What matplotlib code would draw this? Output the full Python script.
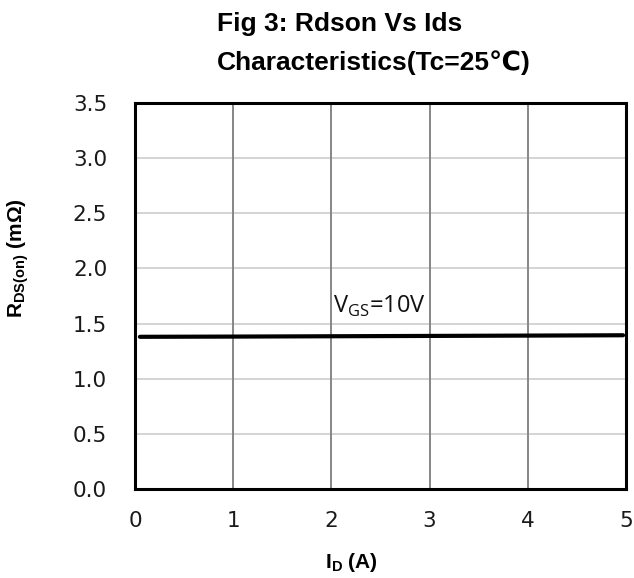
import matplotlib
matplotlib.use("Agg")
import matplotlib.pyplot as plt

# Rdson vs drain current at Vgs = 10V, Tc = 25C
ids_a = [0.05, 1, 2, 3, 4, 4.97]
rdson_mohm = [1.38, 1.382, 1.385, 1.388, 1.391, 1.394]

x_ticks = [0, 1, 2, 3, 4, 5]
y_ticks = [0.0, 0.5, 1.0, 1.5, 2.0, 2.5, 3.0, 3.5]

W, H = 634, 578
fig = plt.figure(figsize=(W / 100, H / 100), dpi=100)
ax = fig.add_axes([135 / W, 1 - 489 / H, (626 - 135) / W, (489 - 103) / H])

ax.plot(ids_a, rdson_mohm, color="black", lw=3, solid_capstyle="round", zorder=3)

ax.set_xlim(0, 5)
ax.set_ylim(0, 3.5)
ax.set_xticks(x_ticks)
ax.set_yticks(y_ticks)
ax.set_xticklabels([str(t) for t in x_ticks])
ax.set_yticklabels([f"{t:.1f}" for t in y_ticks])
ax.tick_params(length=0, labelsize=15.5, colors="#1a1a1a")
ax.tick_params(axis="x", pad=16)
ax.tick_params(axis="y", pad=20)

for v in y_ticks[1:-1]:
    ax.axhline(v, color="#d4d4d4", lw=1.4, zorder=1)
for v in x_ticks[1:-1]:
    ax.axvline(v, color="#868686", lw=1.4, zorder=1)

for s in ax.spines.values():
    s.set_linewidth(2.2)
    s.set_color("black")

ax.text(2.016, 1.596, r"V$_{\mathregular{GS}}$=10V", fontsize=17,
        family="Open Sans", color="#111111", va="baseline")

bold = dict(family=["Liberation Sans", "DejaVu Sans"], weight="bold")
fig.text(217 / W, 1 - 31 / H, "Fig 3: Rdson Vs Ids", ha="left", va="baseline",
         fontsize=19, **bold)
fig.text(217 / W, 1 - 70 / H, "Characteristics(Tc=25℃)", ha="left", va="baseline",
         fontsize=19, **bold)
fig.text(351 / W, 1 - 562 / H, r"I$_{\mathregular{D}}$ (A)", ha="center", va="center",
         fontsize=15, **bold)
fig.text(18 / W, 1 - 258 / H, r"R$_{\mathregular{DS(on)}}$ (mΩ)", ha="center",
         va="center", rotation=90, fontsize=15, **bold)

fig.savefig("out.png", dpi=100)
